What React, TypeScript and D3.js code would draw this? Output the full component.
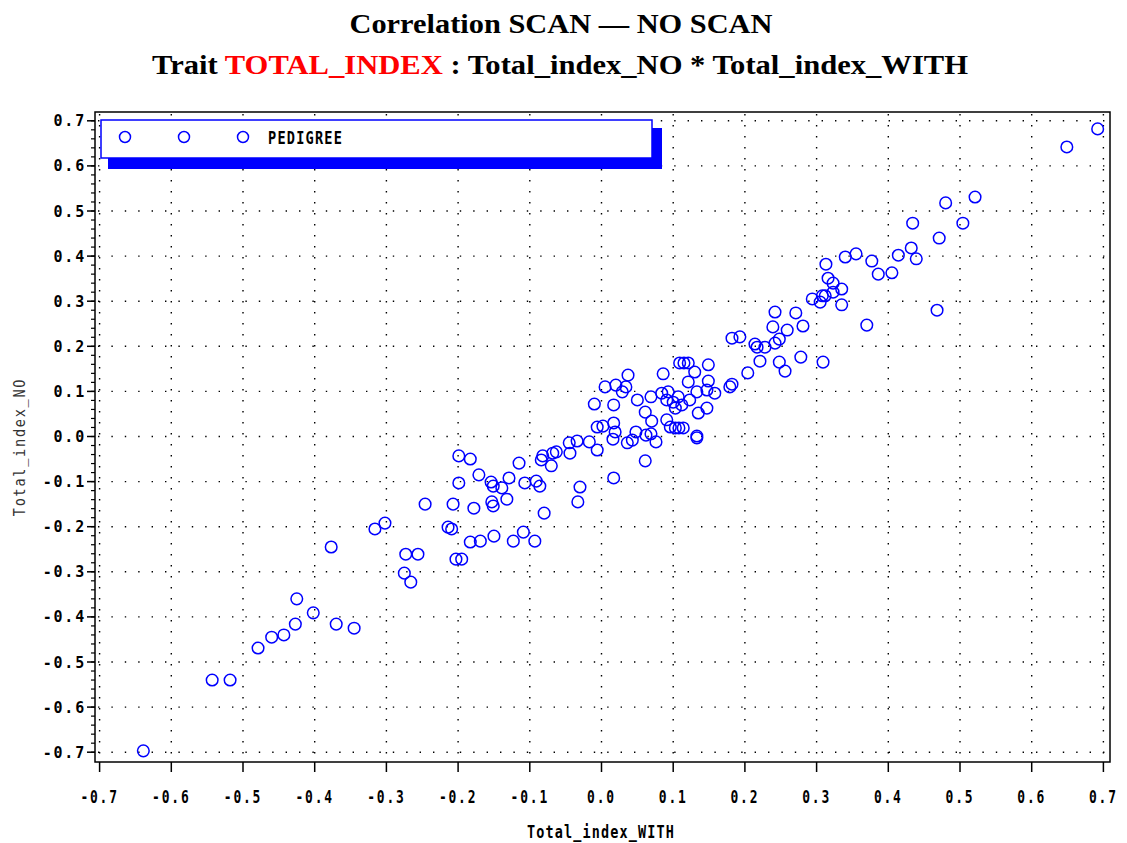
import React from 'react';
import * as d3 from 'd3';

const W = 1127;
const H = 843;

// Total_index_WITH (x) values
const withValues = [
  -0.639, -0.543, -0.518, -0.479, -0.460, -0.443, -0.427, -0.425, -0.402, -0.370,
  -0.345, -0.377, -0.316, -0.302, -0.246, -0.275, -0.266, -0.273, -0.256, -0.214,
  -0.209, -0.203, -0.195, -0.183, -0.169, -0.150, -0.207, -0.178, -0.153, -0.151,
  -0.199, -0.199, -0.183, -0.171, -0.154, -0.151, -0.139, -0.129, -0.132, -0.123,
  -0.109, -0.093, -0.080, -0.115, -0.107, -0.091, -0.086, -0.030, -0.033, -0.082,
  -0.084, -0.070, -0.068, -0.063, -0.044, -0.045, -0.034, -0.017, -0.006, -0.006,
  0.002, 0.017, 0.019, 0.016, -0.010, 0.017, 0.005, 0.020, 0.034, 0.037,
  0.029, 0.036, 0.043, 0.048, 0.062, 0.069, 0.076, 0.061, 0.017, 0.050,
  0.069, 0.061, 0.070, 0.086, 0.084, 0.093, 0.091, 0.100, 0.107, 0.103,
  0.112, 0.123, 0.091, 0.096, 0.103, 0.108, 0.114, 0.133, 0.133, 0.135,
  0.147, 0.133, 0.147, 0.158, 0.121, 0.149, 0.130, 0.109, 0.115, 0.121,
  0.149, 0.179, 0.182, 0.204, 0.221, 0.182, 0.193, 0.214, 0.217, 0.228,
  0.242, 0.248, 0.248, 0.256, 0.278, 0.309, 0.242, 0.271, 0.239, 0.259,
  0.281, 0.294, 0.308, 0.312, 0.305, 0.335, 0.323, 0.335, 0.323, 0.316,
  0.313, 0.340, 0.355, 0.377, 0.386, 0.405, 0.414, 0.432, 0.439, 0.434,
  0.471, 0.480, 0.504, 0.521, 0.468, 0.370, 0.649, 0.692,
];

// Total_index_NO (y) values
const noValues = [
  -0.697, -0.540, -0.540, -0.469, -0.445, -0.440, -0.416, -0.360, -0.391, -0.416,
  -0.425, -0.245, -0.205, -0.192, -0.150, -0.303, -0.323, -0.261, -0.261, -0.201,
  -0.205, -0.272, -0.272, -0.234, -0.232, -0.221, -0.150, -0.159, -0.145, -0.154,
  -0.103, -0.043, -0.050, -0.085, -0.101, -0.110, -0.114, -0.092, -0.139, -0.232,
  -0.212, -0.232, -0.170, -0.059, -0.103, -0.099, -0.110, -0.112, -0.145, -0.043,
  -0.052, -0.065, -0.037, -0.034, -0.037, -0.014, -0.010, -0.012, -0.030, 0.021,
  0.023, 0.030, 0.010, -0.006, 0.072, 0.070, 0.110, 0.114, 0.110, 0.136,
  0.099, -0.014, -0.008, 0.010, 0.003, 0.006, -0.012, -0.054, -0.092, 0.081,
  0.088, 0.054, 0.034, 0.139, 0.096, 0.099, 0.081, 0.076, 0.088, 0.063,
  0.070, 0.081, 0.037, 0.021, 0.019, 0.019, 0.019, 0.001, -0.003, 0.052,
  0.063, 0.099, 0.103, 0.096, 0.121, 0.123, 0.143, 0.163, 0.163, 0.163,
  0.159, 0.110, 0.116, 0.141, 0.167, 0.218, 0.221, 0.205, 0.198, 0.198,
  0.207, 0.216, 0.165, 0.145, 0.176, 0.165, 0.276, 0.274, 0.243, 0.236,
  0.245, 0.305, 0.312, 0.312, 0.298, 0.292, 0.320, 0.327, 0.340, 0.351,
  0.382, 0.398, 0.405, 0.389, 0.360, 0.363, 0.402, 0.418, 0.394, 0.473,
  0.440, 0.518, 0.473, 0.531, 0.280, 0.247, 0.642, 0.682,
];

const xTicks = [-0.7, -0.6, -0.5, -0.4, -0.3, -0.2, -0.1, 0.0, 0.1, 0.2, 0.3, 0.4, 0.5, 0.6, 0.7];
const yTicks = [-0.7, -0.6, -0.5, -0.4, -0.3, -0.2, -0.1, 0.0, 0.1, 0.2, 0.3, 0.4, 0.5, 0.6, 0.7];
const legendLabel = 'PEDIGREE';
const titleLine1 = 'Correlation SCAN \u2014 NO SCAN';
const traitName = 'TOTAL_INDEX';
const xLabel = 'Total_index_WITH';
const yLabel = 'Total_index_NO';

export default function App() {
  const x = d3.scaleLinear().domain([-0.7, 0.7]).range([99.6, 1103.4]);
  const y = d3.scaleLinear().domain([-0.7, 0.7]).range([752.2, 120.8]);
  const frame = { left: 95, right: 1110, top: 112, bottom: 762 };
  const minorY = d3.range(-70, 71, 2).map((v) => v / 100);
  const fmt = (v: number) => (Math.abs(v) < 1e-9 ? '0.0' : v.toFixed(1));
  const points = withValues.map((v, i) => [v, noValues[i]]);
  const blue = '#0000ff';
  const mono = "'DejaVu Sans Mono', monospace";

  return (
    <svg width={W} height={H} style={{ position: 'absolute', left: 0, top: 0, background: '#fff' }}>
      <rect x={0} y={0} width={W} height={H} fill="#fff" />
      {/* titles */}
      <text x={561} y={33} textAnchor="middle" fontFamily="'Liberation Serif', 'Times New Roman', serif"
        fontWeight="bold" fontSize={27} textLength={423} lengthAdjust="spacingAndGlyphs">{titleLine1}</text>
      <text x={560} y={74} textAnchor="middle" fontFamily="'Liberation Serif', 'Times New Roman', serif"
        fontWeight="bold" fontSize={27} textLength={816} lengthAdjust="spacingAndGlyphs">
        <tspan>Trait </tspan>
        <tspan fill="#ff0000">{traitName}</tspan>
        <tspan> : Total_index_NO * Total_index_WITH</tspan>
      </text>

      {/* grid */}
      {xTicks.map((t) => (
        <line key={'gx' + t} x1={x(t)} x2={x(t)} y1={frame.top + 2} y2={frame.bottom - 1}
          stroke="#000" strokeWidth={1.4} strokeDasharray="1.4 9.6" />
      ))}
      {yTicks.map((t) => (
        <line key={'gy' + t} x1={frame.left + 3} x2={frame.right - 1} y1={y(t)} y2={y(t)}
          stroke="#000" strokeWidth={1.4} strokeDasharray="1.4 12" />
      ))}

      {/* frame */}
      <rect x={frame.left} y={frame.top} width={frame.right - frame.left} height={frame.bottom - frame.top}
        fill="none" stroke="#000" strokeWidth={1.5} />

      {/* x axis ticks */}
      {xTicks.map((t) => (
        <g key={'xt' + t}>
          <line x1={x(t)} x2={x(t)} y1={frame.bottom} y2={frame.bottom + 10} stroke="#000" strokeWidth={1.5} />
          <text transform={`translate(${x(t)},803) scale(0.72,1)`} textAnchor="middle" fontFamily={mono}
            fontWeight="bold" fontSize={18} letterSpacing={2.5}>{fmt(t)}</text>
        </g>
      ))}
      {/* y axis ticks */}
      {minorY.map((t) => (
        <line key={'ym' + t} x1={frame.left - 4} x2={frame.left} y1={y(t)} y2={y(t)} stroke="#000" strokeWidth={1.2} />
      ))}
      {yTicks.map((t) => (
        <g key={'yt' + t}>
          <line x1={frame.left - 8} x2={frame.left} y1={y(t)} y2={y(t)} stroke="#000" strokeWidth={1.5} />
          <text x={86} y={y(t) + 5.5} textAnchor="end" fontFamily={mono} fontWeight="bold" fontSize={15}
            letterSpacing={1.8}>{fmt(t)}</text>
        </g>
      ))}

      {/* axis labels */}
      <text transform="translate(601,838) scale(0.75,1)" textAnchor="middle" fontFamily={mono} fontWeight="bold"
        fontSize={18} letterSpacing={1.5}>{xLabel}</text>
      <text transform={`translate(25,447) rotate(-90) scale(0.85,1)`} textAnchor="middle" fontFamily={mono}
        fontSize={16} letterSpacing={2} fill="#333">{yLabel}</text>

      {/* legend */}
      <rect x={108} y={128} width={554} height={41} fill={blue} />
      <rect x={101} y={120} width={551} height={38} fill="#fff" stroke={blue} strokeWidth={1.5} />
      {[125, 184, 243].map((lx) => (
        <circle key={'lg' + lx} cx={lx} cy={137} r={5.5} fill="none" stroke={blue} strokeWidth={1.5} />
      ))}
      <text transform="translate(268,144) scale(0.8,1)" fontFamily={mono} fontWeight="bold" fontSize={17}
        letterSpacing={1.5}>{legendLabel}</text>

      {/* points */}
      {points.map(([a, b], i) => (
        <circle key={'p' + i} cx={x(a)} cy={y(b)} r={5.8} fill="none" stroke={blue} strokeWidth={1.5} />
      ))}
    </svg>
  );
}
